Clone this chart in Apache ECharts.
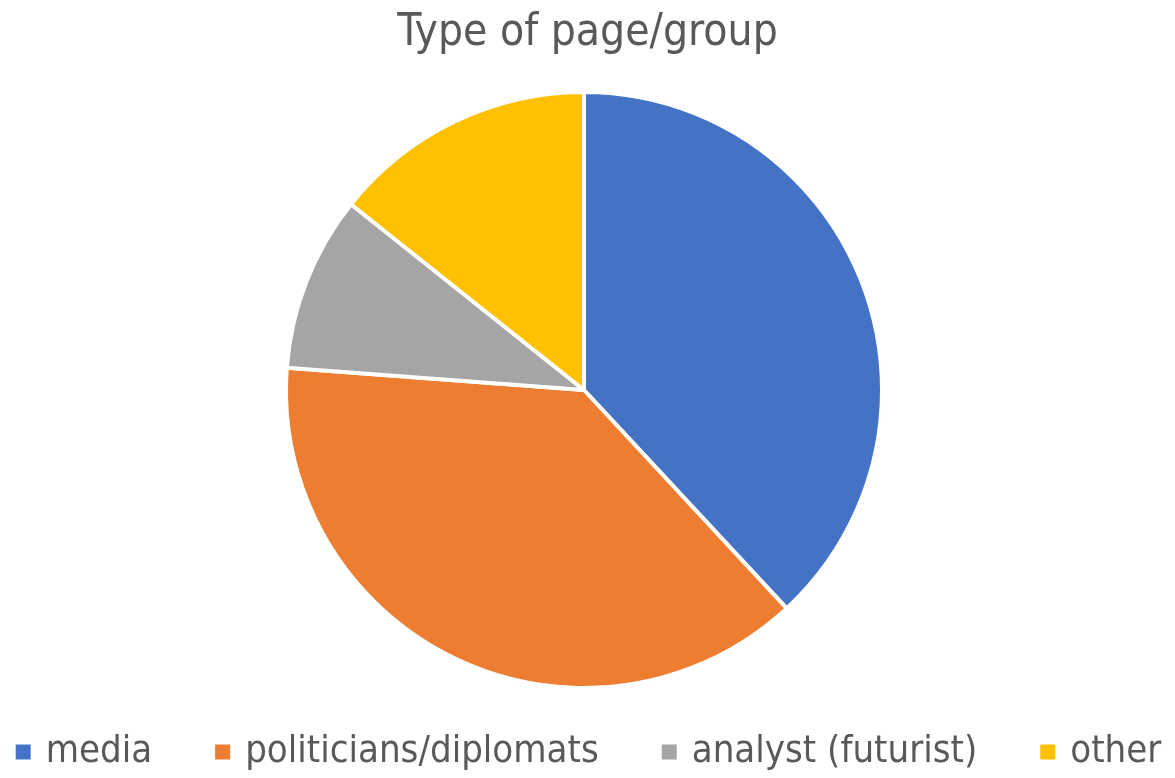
<!DOCTYPE html>
<html>
<head>
<meta charset="utf-8">
<script src="https://cdn.jsdelivr.net/npm/echarts@6/dist/echarts.min.js"></script>
<style>
  html, body { margin: 0; padding: 0; background: #fff; }
  #chart { width: 1175px; height: 778px; }
</style>
</head>
<body>
<div id="chart"></div>
<script>
var categories = ['media', 'politicians/diplomats', 'analyst (futurist)', 'other'];
var counts = [8, 8, 2, 3];
var colors = ['#4472C4', '#ED7D31', '#A5A5A5', '#FFC000'];

var fontName = '"Liberation Sans Narrow", "DejaVu Sans Condensed", sans-serif';

var pieData = categories.map(function (name, i) {
    return {name: name, value: counts[i], itemStyle: {color: colors[i]}};
});

var option = {
    animation: false,
    title: {
        text: 'Type of page/group',
        left: 'center', top: 7,
        textStyle: {fontFamily: fontName, fontSize: 44, fontWeight: 'normal', color: '#595959'}
    },
    legend: {
        bottom: 2, left: 'center',
        itemWidth: 17, itemHeight: 17, itemGap: 61,
        icon: 'rect',
        textStyle: {fontFamily: fontName, fontSize: 38, color: '#595959', padding: [0, 0, 0, 9]},
        data: categories
    },
    series: [{
        type: 'pie',
        center: [584, 390],
        radius: 298,
        startAngle: 90,
        clockwise: true,
        label: {show: false},
        labelLine: {show: false},
        emphasis: {disabled: true},
        itemStyle: {borderColor: '#fff', borderWidth: 4},
        data: pieData
    }]
};

var chart = echarts.init(document.getElementById('chart'));
chart.setOption(option);
</script>
</body>
</html>
